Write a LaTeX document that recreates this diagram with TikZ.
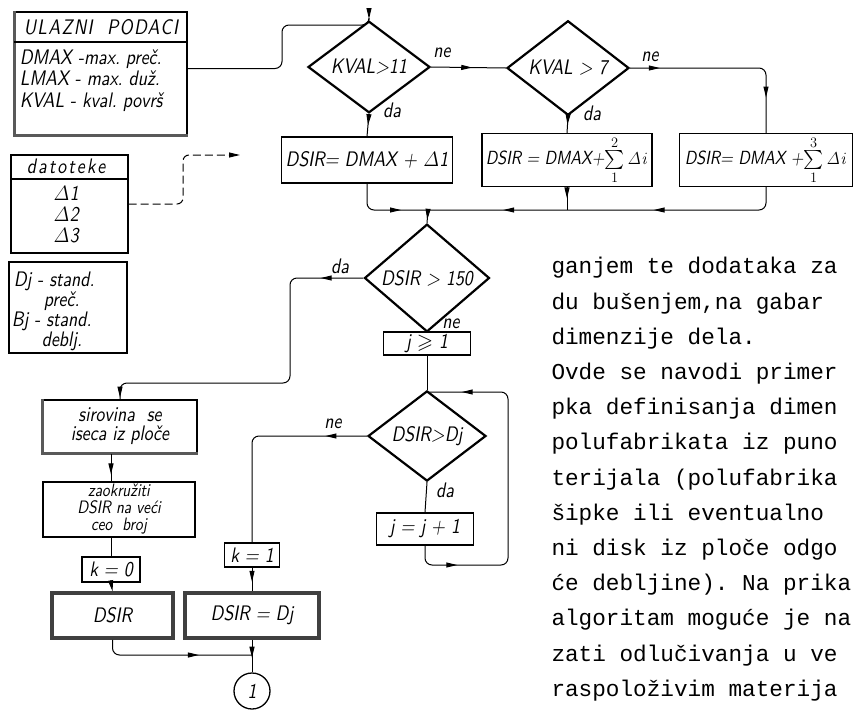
\documentclass[tikz,border=0pt]{standalone}
\usepackage{amsmath,amssymb}
\usepackage[no-math]{fontspec}
\setsansfont{lmsans10-regular.otf}[ItalicFont=lmsans10-oblique.otf, FakeStretch=0.85]
\setmonofont{Liberation Mono}
\usetikzlibrary{shapes.geometric,arrows.meta,decorations.markings}

\begin{document}
\begin{tikzpicture}
  [x=1pt, y=-1pt, line width=1pt,
   font=\sffamily\itshape\fontsize{21}{23}\selectfont,
   >={Triangle[length=11pt,width=5pt]},
   box/.style={draw, line width=1.3pt, inner sep=2pt, align=center},
   heavy/.style={draw=black!75, line width=3.5pt, inner sep=2pt, align=center},
   cond/.style={diamond, draw, line width=2.2pt, inner sep=0pt,
     minimum width=122pt, minimum height=58pt},
   shadowline/.style={line width=3pt, black!65},
   arrowat/.style={postaction={decorate, decoration={markings,
     mark=at position #1 with {\arrow{>}}}}},
   lbl/.style={inner sep=1pt}]
  \useasboundingbox (0,0) rectangle (855,710);
  \clip (0,0) rectangle (855,710);

  % input data and files on the left
  \node[box, minimum width=172pt, minimum height=123pt] (ulaz) at (101,73.5) {};
  \draw[shadowline] (ulaz.north west) -- (ulaz.south west) -- (ulaz.south east);
  \draw[line width=1.3pt] (ulaz.west |- 0,42) -- (ulaz.east |- 0,42);
  \node (ulazhead) at (101,27) {\addfontfeature{LetterSpace=6}ULAZNI\ \ PODACI};
  \node[anchor=north west, align=left, font=\sffamily\itshape\fontsize{21}{21.5}\selectfont]
    (ulazlist) at (16,46) {DMAX -max.\ preč.\\LMAX - max.\ duž.\\KVAL - kval.\ površ};

  \node[box, minimum width=117pt, minimum height=98pt] (dato) at (69.5,204) {};
  \draw[line width=1.3pt] (dato.west |- 0,179) -- (dato.east |- 0,179);
  \node (datohead) at (66,166) {\addfontfeature{LetterSpace=10}datoteke};
  \node[align=center, font=\sffamily\itshape\fontsize{21}{21}\selectfont] (datolist) at (66,215)
    {$\mathit{\Delta}$1\\$\mathit{\Delta}$2\\$\mathit{\Delta}$3};
  \coordinate (datoend) at (240,155);
  \draw[dashed, dash pattern=on 8pt off 4pt, rounded corners=6pt, ->] (dato.east) -| (183,155) -- (datoend);

  \node[box, minimum width=118pt, minimum height=91pt] (djbox) at (68,307.5) {};
  \node[anchor=north west, align=left, font=\sffamily\itshape\fontsize{21}{16}\selectfont]
    (djtext) at (10,268) {Dj - stand.\\\hspace{30pt}preč.};
  \node[anchor=north west, align=left, font=\sffamily\itshape\fontsize{21}{16}\selectfont]
    (bjtext) at (8,308) {Bj - stand.\\\hspace{30pt}deblj.};

  % quality of surface decides the allowance
  \node[cond] (kval11) at (369,67) {KVAL>11};
  \node[cond] (kval7) at (568,68) {KVAL > 7};
  \node[box, minimum width=171pt, minimum height=46pt] (dsira) at (367,160)
    {DSIR= DMAX + $\mathit{\Delta}$1};
  \node[box, minimum width=170pt, minimum height=46pt, font=\sffamily\itshape\fontsize{19}{21}\selectfont]
    (dsirb) at (567,160) {DSIR = DMAX+$\sum\limits_1^2\mathit{\Delta i}$};
  \node[box, minimum width=173pt, minimum height=46pt, font=\sffamily\itshape\fontsize{19}{21}\selectfont]
    (dsirc) at (766,160) {DSIR= DMAX +$\sum\limits_1^3\mathit{\Delta i}$};
  \node[lbl] (ne1) at (442,53) {ne};
  \node[lbl] (ne2) at (650,57) {ne};
  \node[lbl] (da1) at (392,110) {da};
  \node[lbl] (da2) at (592,113) {da};

  \draw[rounded corners=7pt, arrowat=0.995] ([yshift=5pt]ulaz.east) -| (282,25) -| (kval11.north);
  \draw[arrowat=0.55] (kval11.east) -- (kval7.west);
  \draw[rounded corners=7pt, arrowat=0.15, arrowat=0.82] (kval7.east) -| (dsirc.north);
  \draw[arrowat=0.5] (kval11.south) -- (dsira.north);
  \draw[arrowat=0.5] (kval7.south) -- (dsirb.north);

  \coordinate (join) at (428,210);
  \draw[rounded corners=7pt, arrowat=0.68] (dsira.south) |- (join);
  \draw[arrowat=0.5] (dsirb.south) -- (dsirb.south |- join);
  \draw[rounded corners=7pt, arrowat=0.37, arrowat=0.79] (dsirc.south) |- (join);

  % search of the standard diameter
  \node[cond, minimum width=125pt, minimum height=60pt] (dsir150) at (427,278) {DSIR > 150};
  \node[box, minimum width=87pt, minimum height=23pt] (jinit) at (427,343.5) {j $\geqslant$ 1};
  \coordinate (loopin) at (427,392);
  \node[cond, minimum width=118pt, minimum height=63pt] (dsirdj) at (427,436) {DSIR>Dj};
  \node[box, minimum width=97pt, minimum height=32pt] (jinc) at (425,529) {j = j + 1};
  \coordinate (loopr) at (508,565);
  \node[lbl] (da3) at (340,266) {da};
  \node[lbl] (ne3) at (451,324) {ne};
  \node[lbl] (ne4) at (333,424) {ne};
  \node[lbl] (da4) at (445,490) {da};

  \draw[arrowat=0.75] (join) -- (dsir150.north);
  \draw (dsir150.south) -- (jinit.north);
  \draw (jinit.south) -- (dsirdj.north);
  \draw (dsirdj.south) -- (jinc.north);
  \draw[rounded corners=7pt, arrowat=0.14, arrowat=0.9] (jinc.south) |- (loopr) |- (loopin);

  % plate or bar
  \node[box, minimum width=154pt, minimum height=53pt, font=\sffamily\itshape\fontsize{21}{19}\selectfont]
    (siro) at (120,426.5) {sirovina\ \ se\\iseca iz ploče};
  \draw[shadowline] (siro.north west) -- (siro.south west) -- (siro.south east);
  \node[box, minimum width=152pt, minimum height=55pt, inner sep=0pt,
    font=\sffamily\itshape\fontsize{18}{17}\selectfont]
    (zaok) at (119,509.5) {zaokružiti\\DSIR na veći\\ceo\ \ broj};
  \node[box, minimum width=58pt, minimum height=25pt] (k0) at (111,569.5) {k = 0};
  \node[heavy, minimum width=121pt, minimum height=45pt] (dsirl) at (112.5,615.5) {DSIR};
  \node[box, minimum width=55pt, minimum height=24pt] (k1) at (252,555) {k = 1};
  \node[heavy, minimum width=134pt, minimum height=45pt] (dsirr) at (252,615.5) {DSIR = Dj};
  \coordinate (meet) at (252,655);
  \node[circle, draw, line width=1.3pt, minimum size=36pt, inner sep=0pt] (circ) at (252,691) {1};

  \draw[rounded corners=7pt, arrowat=0.12, arrowat=0.995] (dsir150.west) -| (290,383) -| (siro.north);
  \draw[rounded corners=7pt, arrowat=0.19] (dsirdj.west) -| (k1.north);
  \draw[arrowat=0.75] (siro.south -| k0) -- (zaok.north -| k0);
  \draw (zaok.south -| k0) -- (k0.north);
  \draw[->] (k0.south) -- (dsirl.north);
  \draw[arrowat=0.6] (k1.south) -- (dsirr.north);
  \draw[rounded corners=7pt, arrowat=0.65] (dsirl.south) |- (meet);
  \draw[arrowat=0.55] (dsirr.south) -- (circ.north);

  % running text of the page
  \node[anchor=north west, align=left, inner sep=0pt, font=\ttfamily\fontsize{22.7}{35.2}\selectfont]
    (prose) at (551,257) {ganjem te dodataka za\\du bušenjem,na gabar\\dimenzije dela.\\
    Ovde se navodi primer\\pka definisanja dimen\\polufabrikata iz puno\\
    terijala (polufabrika\\šipke ili eventualno\\ni disk iz ploče odgo\\
    će debljine). Na prika\\algoritam moguće je na\\zati odlučivanja u ve\\
    raspoloživim materija};
\end{tikzpicture}
\end{document}
